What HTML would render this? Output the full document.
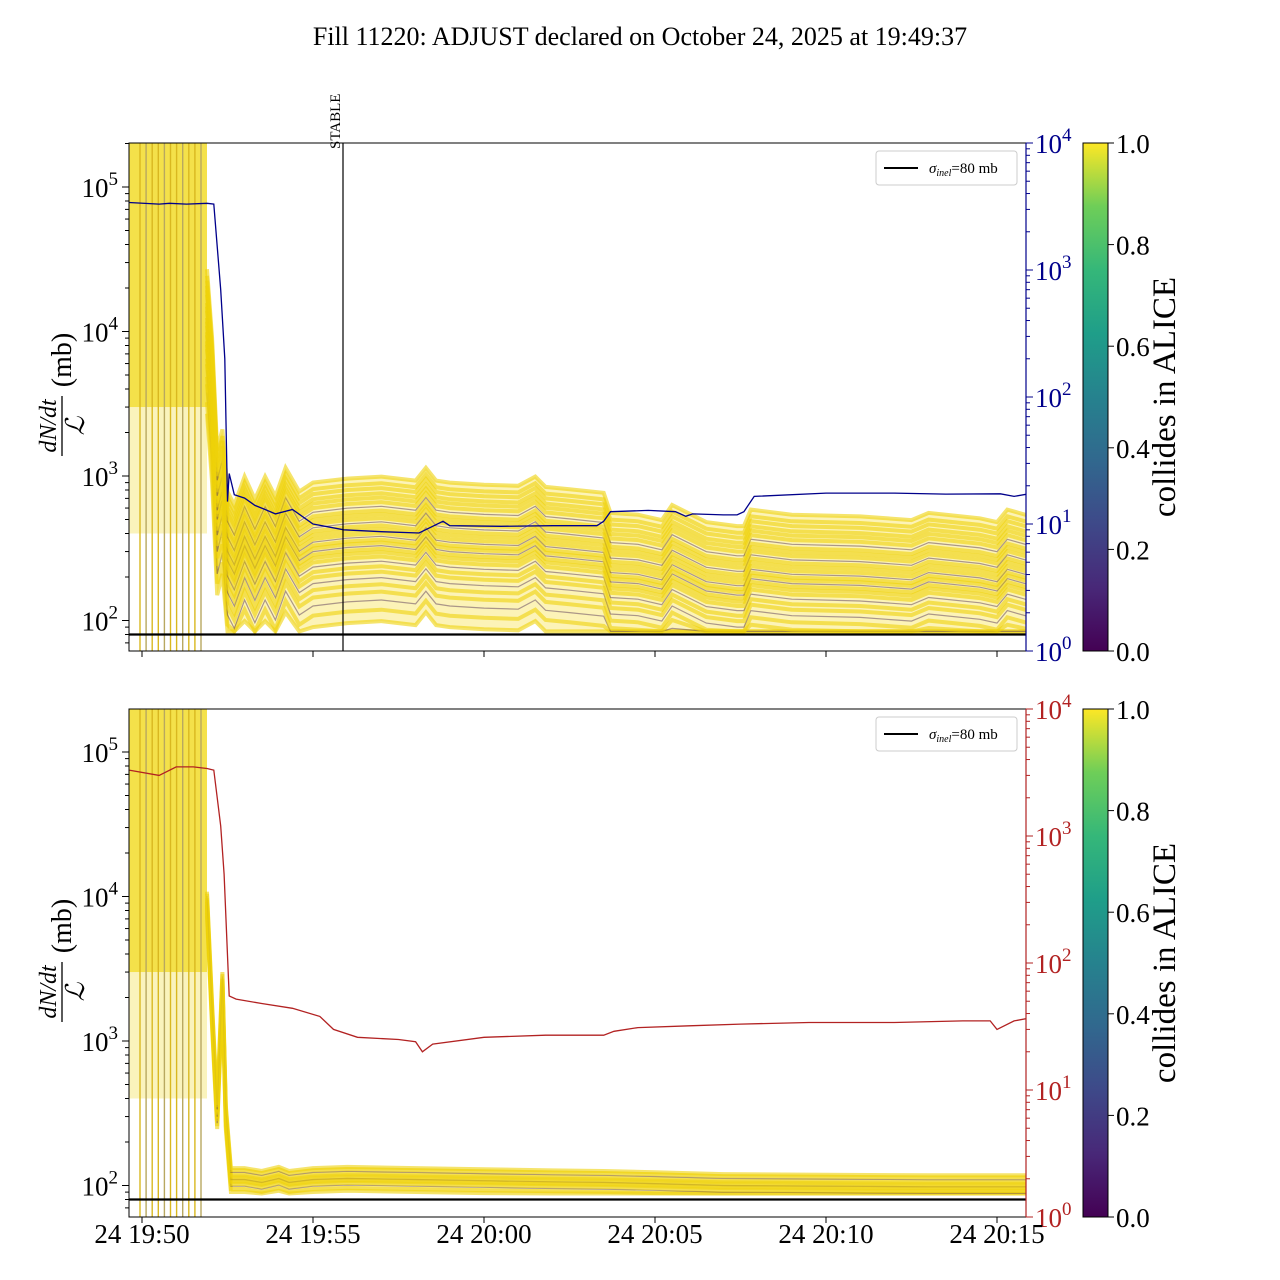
<!DOCTYPE html>
<html><head><meta charset="utf-8"><style>
html,body{margin:0;padding:0;background:#fff;}
svg{display:block;font-family:"Liberation Serif",serif;}
</style></head><body>
<svg id="chart" width="1280" height="1280" viewBox="0 0 1280 1280" xmlns="http://www.w3.org/2000/svg">
<defs>
<linearGradient id="viridis" x1="0" y1="1" x2="0" y2="0">
<stop offset="0" stop-color="#440154"/><stop offset="0.125" stop-color="#482878"/><stop offset="0.25" stop-color="#3e4989"/><stop offset="0.375" stop-color="#31688e"/><stop offset="0.5" stop-color="#26828e"/><stop offset="0.625" stop-color="#1f9e89"/><stop offset="0.75" stop-color="#35b779"/><stop offset="0.875" stop-color="#6ece58"/><stop offset="1" stop-color="#fde725"/>
</linearGradient>
<clipPath id="clipTop"><rect x="129" y="143" width="897" height="508"/></clipPath>
<clipPath id="clipBot"><rect x="129" y="709" width="897" height="508"/></clipPath>
</defs>
<text x="640" y="45" text-anchor="middle" font-size="26">Fill 11220: ADJUST declared on October 24, 2025 at 19:49:37</text>
</svg>
<script>
// minutes since 19:50
const xTickLabels = ["24 19:50","24 19:55","24 20:00","24 20:05","24 20:10","24 20:15"];
const xTickMinutes = [0,5,10,15,20,25];
const cbarTicks = ["0.0","0.2","0.4","0.6","0.8","1.0"];
// blue line (top panel, right axis)
const blueT = [-0.38,0.5,0.8,1.3,1.9,2.1,2.3,2.42,2.5,2.55,2.7,3.0,3.3,3.6,3.9,4.4,5.0,5.9,7.0,8.1,8.5,8.8,9.0,10.5,12.0,13.3,13.5,13.7,14.8,15.6,15.9,16.1,17.0,17.4,17.6,17.9,20.0,22.0,23.5,25.1,25.5,26.2];
const blueV = [3400,3300,3350,3300,3350,3300,700,200,15,25,17,16,14,13,12,13,10,9,8.7,8.5,9.6,10.5,9.7,9.6,9.7,9.7,10.5,12.5,12.8,12.5,11.5,12.0,11.8,11.8,12.5,16.5,17.5,17.5,17.2,17.3,16.5,17.8];
// red line (bottom panel, right axis)
const redT = [-0.38,0.5,1.0,1.5,1.9,2.1,2.3,2.4,2.55,2.75,3.5,4.4,5.2,5.6,6.3,7.5,8.0,8.2,8.5,10.0,11.8,13.5,13.8,14.5,16.0,17.5,19.5,22.0,24.0,24.8,25.0,25.5,26.2];
const redV = [3300,3000,3500,3500,3400,3300,1200,500,55,52,48,44,38,30,26,25,24,20,23,26,27,27,29,31,32,33,34,34,35,35,30,35,38];
// band profile, top panel (dN/dt / L in mb)
const bandTopT = [1.9,2.05,2.2,2.35,2.5,2.7,3.0,3.3,3.6,3.9,4.2,4.6,5.0,6.0,7.0,8.0,8.3,8.6,9.0,10.0,11.0,11.5,11.8,12.5,13.5,13.7,14.5,15.2,15.5,16.5,17.4,17.6,17.8,19.0,21.0,22.5,23.0,24.5,25.0,25.3,26.2];
const bandTopV = [9000,3000,500,700,260,210,330,230,330,240,380,260,300,320,330,310,380,310,300,290,285,330,280,270,255,185,180,165,210,160,150,150,195,180,175,165,185,170,160,195,170];
// band profile, bottom panel
const bandBotT = [1.9,2.05,2.2,2.35,2.45,2.6,3.0,3.5,4.0,4.3,5.0,6.0,8.0,10.0,12.0,13.5,15.0,17.0,20.0,23.0,26.2];
const bandBotV = [9000,1500,300,2500,300,110,110,105,112,105,110,112,110,108,106,105,103,100,99,98,98];
// per-line spread factors and colour value (collides in ALICE)
const lineFactors = [0.3,0.36,0.42,0.48,0.54,0.6,0.66,0.72,0.78,0.84,0.9,0.95,1.0,1.05,1.1,1.16,1.22,1.3,1.38,1.46,1.55,1.65,1.75,1.87,2.0,2.15,2.3,2.5,2.7,3.0];
const lineColor = [1,1,0,1,1,0.2,1,1,0,1,1,1,0.1,1,1,0,1,1,1,0.15,1,1,1,0,1,1,1,1,1,1];
const botFactors = [0.82,0.86,0.9,0.93,0.96,0.98,1.0,1.02,1.05,1.08,1.12,1.16,1.2];

const NS="http://www.w3.org/2000/svg";
const svg=document.getElementById('chart');
function el(tag,attrs,parent){const e=document.createElementNS(NS,tag);for(const k in attrs)e.setAttribute(k,attrs[k]);(parent||svg).appendChild(e);return e;}
const x=m=>142+m*34.2;
const panels=[{top:143,yL5:187,color:'#00008b',blue:true},{top:709,yL5:752,color:'#b22222',blue:false}];
const dec=144.5, rdec=127;

panels.forEach((p,pi)=>{
  const bottom=p.top+508;
  const yL=v=>p.yL5+(5-Math.log10(v))*dec;
  const yR=v=>p.top+(4-Math.log10(v))*rdec;
  const g=el('g',{'clip-path':'url(#'+(pi?'clipBot':'clipTop')+')'});
  
  
  const sat=el('rect',{x:129,y:p.top,width:78,height:yL(3000)-p.top,fill:'#f2dc2a','fill-opacity':0.85},g);
  
  
  const sat2=el('rect',{x:129,y:yL(3000),width:78,height:yL(400)-yL(3000),fill:'#f4e46a','fill-opacity':0.45},g);
  
  
  for(let i=0;i<11;i++){
    const vx=140+i*6.1;
    const vl=el('line',{x1:vx,x2:vx,y1:p.top,y2:bottom,stroke:i%3==1?'#b8a860':'#d9b820','stroke-width':1.4},g);
    
    
  }
  const T=pi?bandBotT:bandTopT, V=pi?bandBotV:bandTopV, F=pi?botFactors:lineFactors;
  const lo=F[0], hi=F[F.length-1], floor=pi?88:84;
  const up=T.map((t,j)=>x(t).toFixed(1)+','+yL(V[j]*hi).toFixed(1));
  const dn=T.map((t,j)=>x(t).toFixed(1)+','+yL(j<2?V[j]*lo:Math.max(V[j]*lo,floor)).toFixed(1)).reverse();
  const env=el('polygon',{points:up.concat(dn).join(' '),fill:'#f7e24a','fill-opacity':0.4},g);
  
  
  F.forEach((f,i)=>{
    const c=pi?(i%4==2?0.1:1):lineColor[i];
    const d=T.map((t,j)=>{let v=Math.max(V[j]*f,floor);if(j<2)v=V[j]*f;return (j?'L':'M')+x(t).toFixed(1)+','+yL(v).toFixed(1);}).join('');
    const l=el('path',{d:d,fill:'none',stroke:c>0.5?'#efd20a':'#5a3a5a','stroke-opacity':c>0.5?0.6:0.5,'stroke-width':c>0.5?(pi?4:4):1.2},g);
    
    
  });
  const ref=el('line',{x1:129,x2:1026,y1:yL(80),y2:yL(80),stroke:'#000','stroke-width':2.2},g);
  
  
  const LT=p.blue?blueT:redT, LV=p.blue?blueV:redV;
  const rl=el('path',{d:LT.map((t,j)=>(j?'L':'M')+x(t).toFixed(1)+','+yR(LV[j]).toFixed(1)).join(''),fill:'none',stroke:p.color,'stroke-width':1.3},g);
  
  
  if(!pi){
    const st=el('line',{x1:343,x2:343,y1:143,y2:651,stroke:'#000','stroke-width':1.2});
    
    
    const stt=el('text',{x:0,y:0,transform:'translate(340,149) rotate(-90)','font-size':15});
    stt.textContent='STABLE';
    
    
  }
  const fr=el('rect',{x:129,y:p.top,width:897,height:508,fill:'none',stroke:'#000','stroke-width':1});
  
  
  const rs=el('line',{x1:1026,x2:1026,y1:p.top,y2:bottom,stroke:p.color,'stroke-width':1.2});
  
  
  for(let e=1;e<=5;e++){
    for(let k=1;k<10;k++){
      const v=k*Math.pow(10,e);const yy=yL(v);
      if(yy<p.top||yy>bottom)continue;
      el('line',{x1:129,x2:k==1?122:125,y1:yy,y2:yy,stroke:'#000','stroke-width':1});
    }
    if(e>=2){
      const t=el('text',{x:118,y:yL(Math.pow(10,e))+10,'text-anchor':'end','font-size':27});
      t.innerHTML='10<tspan dy="-12" font-size="19">'+e+'</tspan>';
      
      
    }
  }
  for(let e=0;e<=4;e++){
    for(let k=1;k<10;k++){
      const yy=yR(k*Math.pow(10,e));
      if(yy<p.top-0.5||yy>bottom+0.5)continue;
      el('line',{x1:1026,x2:k==1?1033:1030,y1:yy,y2:yy,stroke:p.color,'stroke-width':1});
    }
    const t=el('text',{x:1035,y:yR(Math.pow(10,e))+10,'font-size':27,fill:p.color});
    t.innerHTML='10<tspan dy="-12" font-size="19">'+e+'</tspan>';
    
    
  }
  xTickMinutes.forEach((m,i)=>{
    el('line',{x1:x(m),x2:x(m),y1:bottom,y2:bottom+6,stroke:'#000','stroke-width':1});
    if(pi){const t=el('text',{x:x(m),y:1243,'text-anchor':'middle','font-size':27});t.textContent=xTickLabels[i];
      
      }
  });
  const yl=el('g',{transform:'translate(62,'+(p.top+255)+') rotate(-90)'});
  
  
  el('text',{x:-28,y:-6,'text-anchor':'middle','font-size':24,'font-style':'italic'},yl).textContent='dN/dt';
  el('line',{x1:-58,x2:2,y1:0,y2:0,stroke:'#000','stroke-width':1.3},yl);
  el('text',{x:-28,y:22,'text-anchor':'middle','font-size':26,'font-style':'italic'},yl).textContent='ℒ';
  el('text',{x:38,y:9,'text-anchor':'middle','font-size':28},yl).textContent='(mb)';
  const lg=el('g',{});
  
  
  el('rect',{x:876,y:p.top+8,width:141,height:34,rx:3,fill:'#fff',stroke:'#ccc'},lg);
  el('line',{x1:884,x2:918,y1:p.top+25,y2:p.top+25,stroke:'#000','stroke-width':2},lg);
  const lt=el('text',{x:929,y:p.top+30,'font-size':15},lg);
  lt.innerHTML='<tspan font-style="italic">σ</tspan><tspan font-size="10" dy="3" font-style="italic">inel</tspan><tspan dy="-3">=80 mb</tspan>';
  const cb=el('rect',{x:1083,y:p.top,width:25,height:508,fill:'url(#viridis)',stroke:'#000','stroke-width':1});
  
  
  cbarTicks.forEach((lab,i)=>{
    const yy=bottom-i*508/5;
    el('line',{x1:1108,x2:1114,y1:yy,y2:yy,stroke:'#000'});
    const t=el('text',{x:1116,y:yy+10,'font-size':27});t.textContent=lab;
    
    
  });
  const ct=el('text',{x:0,y:0,transform:'translate(1175,'+(p.top+254)+') rotate(-90)','text-anchor':'middle','font-size':33});
  ct.textContent='collides in ALICE';
  
  
});
</script>
</body></html>
